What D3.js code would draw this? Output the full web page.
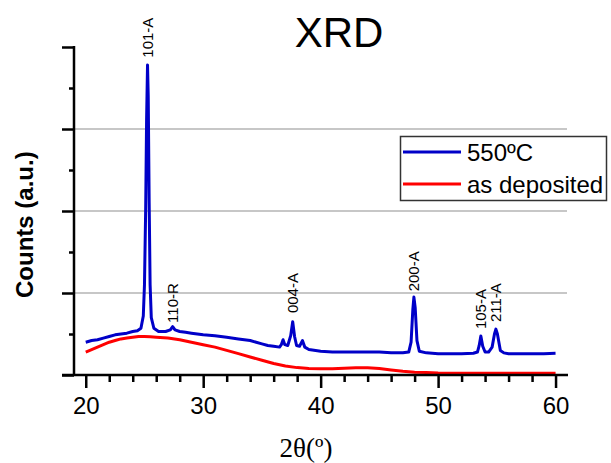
<!DOCTYPE html>
<html>
<head>
<meta charset="utf-8">
<script src="https://cdn.jsdelivr.net/npm/d3@7"></script>
<style>
  body { margin: 0; background: #fff; }
  svg { display: block; font-family: "Liberation Sans", Arial, sans-serif; }
</style>
</head>
<body>
<svg id="chart" width="611" height="463"></svg>
<script>
// 2theta (deg) vs counts (a.u.)
const annealed = [
  [20.0, 0.40], [20.5, 0.42], [21.0, 0.43], [21.5, 0.45], [22.0, 0.47],
  [22.5, 0.49], [23.0, 0.50], [23.5, 0.51], [24.0, 0.53], [24.4, 0.54],
  [24.7, 0.57], [24.9, 0.72], [25.0, 1.10], [25.1, 2.00], [25.18, 3.10],
  [25.26, 3.78], [25.32, 3.40], [25.4, 2.10], [25.48, 1.10], [25.58, 0.70],
  [25.8, 0.57], [26.2, 0.53], [26.8, 0.53], [27.2, 0.55], [27.4, 0.59],
  [27.6, 0.55], [28.0, 0.53], [28.5, 0.52], [29.0, 0.51], [29.5, 0.50],
  [30.0, 0.49], [31.0, 0.48], [32.0, 0.46], [33.0, 0.44], [34.0, 0.42],
  [35.0, 0.38], [35.5, 0.36], [36.0, 0.35], [36.5, 0.34], [36.65, 0.37],
  [36.8, 0.43], [36.95, 0.37], [37.2, 0.36], [37.45, 0.48], [37.62, 0.65],
  [37.78, 0.47], [37.95, 0.36], [38.2, 0.35], [38.45, 0.42], [38.65, 0.34],
  [39.0, 0.31], [40.0, 0.29], [41.0, 0.28], [42.0, 0.28], [43.0, 0.28],
  [44.0, 0.28], [45.0, 0.28], [46.0, 0.27], [47.0, 0.27], [47.5, 0.28],
  [47.7, 0.40], [47.85, 0.80], [47.94, 0.95], [48.05, 0.82], [48.2, 0.42],
  [48.4, 0.29], [49.0, 0.27], [50.0, 0.26], [51.0, 0.26], [52.0, 0.26],
  [53.0, 0.265], [53.35, 0.28], [53.5, 0.36], [53.64, 0.475], [53.8, 0.35],
  [54.0, 0.28], [54.3, 0.28], [54.6, 0.34], [54.8, 0.50], [54.92, 0.56],
  [55.05, 0.50], [55.3, 0.30], [55.6, 0.27], [56.0, 0.26], [57.0, 0.26],
  [58.0, 0.26], [59.0, 0.26], [60.0, 0.265]
];

const asDeposited = [
  [20.0, 0.28], [20.5, 0.31], [21.0, 0.34], [21.5, 0.37], [22.0, 0.40],
  [22.5, 0.42], [23.0, 0.44], [23.5, 0.45], [24.0, 0.46], [24.5, 0.47],
  [25.0, 0.47], [25.5, 0.465], [26.0, 0.46], [27.0, 0.45], [28.0, 0.43],
  [29.0, 0.40], [30.0, 0.37], [31.0, 0.34], [32.0, 0.30], [33.0, 0.26],
  [34.0, 0.22], [35.0, 0.18], [36.0, 0.14], [37.0, 0.11], [38.0, 0.09],
  [39.0, 0.08], [40.0, 0.075], [41.0, 0.077], [42.0, 0.082], [43.0, 0.088],
  [44.0, 0.088], [45.0, 0.078], [46.0, 0.06], [47.0, 0.045], [48.0, 0.035],
  [49.0, 0.03], [50.0, 0.025], [52.0, 0.022], [55.0, 0.02], [58.0, 0.02],
  [60.0, 0.02]
];

// peak labels: name, 2theta, height of label base (counts)
const peakNames = ["101-A", "110-R", "004-A", "200-A", "105-A", "211-A"];
const peakPos = [25.26, 27.4, 37.62, 47.94, 53.64, 54.92];
const peakLabelBase = [3.87, 0.635, 0.755, 1.02, 0.56, 0.645];

const seriesNames = ["550ºC", "as deposited"];
const seriesColors = ["#0000c8", "#ff0000"];
const xTicks = [20, 30, 40, 50, 60];
const xMinor = [22, 24, 26, 28, 32, 34, 36, 38, 42, 44, 46, 48, 52, 54, 56, 58];
const yTicks = [0, 1, 2, 3, 4];
const yMinor = [0.5, 1.5, 2.5, 3.5];
const gridVals = [1, 2, 3];

const svg = d3.select("#chart");

const x = d3.scaleLinear().domain([19, 61.06]).range([74, 568]);
const y = d3.scaleLinear().domain([0, 4]).range([375, 47]);

// grid
svg.append("g")
  .selectAll("line")
  .data(gridVals)
  .enter()
  .append("line")
  .attr("x1", x(19))
  .attr("x2", 567)
  .attr("y1", (d) => y(d))
  .attr("y2", (d) => y(d))
  .attr("stroke", "#b4b4b4")
  .attr("stroke-width", 1.5);

// curves
const line = d3.line()
  .x((d) => x(d[0]))
  .y((d) => y(d[1]));

[asDeposited, annealed].forEach((data, i) => {
  svg.append("path")
    .datum(data)
    .attr("d", line)
    .attr("fill", "none")
    .attr("stroke", seriesColors[1 - i])
    .attr("stroke-width", 3)
    .attr("stroke-linejoin", "round");
});

// axes
const xAxis = svg.append("g").attr("transform", `translate(0, ${y(0)})`);
xAxis.call(d3.axisBottom(x).tickValues(xTicks).tickSize(13).tickPadding(9));
xAxis.append("g").call(d3.axisBottom(x).tickValues(xMinor).tickSize(7).tickFormat(""));
xAxis.selectAll(".domain").remove();
xAxis.selectAll("line").attr("stroke", "#000").attr("stroke-width", 2.5);
xAxis.selectAll("text")
  .attr("fill", "#000")
  .style("font-size", "24px")
  .style("font-family", "'Liberation Sans', Arial, sans-serif");
xAxis.append("line")
  .attr("x1", 62).attr("x2", 568)
  .attr("stroke", "#000").attr("stroke-width", 2.5);

const yAxis = svg.append("g").attr("transform", `translate(${x(19)}, 0)`);
yAxis.call(d3.axisLeft(y).tickValues(yTicks).tickSize(12).tickFormat(""));
yAxis.append("g").call(d3.axisLeft(y).tickValues(yMinor).tickSize(5).tickFormat(""));
yAxis.selectAll(".domain").remove();
yAxis.selectAll("line").attr("stroke", "#000").attr("stroke-width", 2.5);
yAxis.append("line")
  .attr("y1", y(4) - 1).attr("y2", y(0))
  .attr("stroke", "#000").attr("stroke-width", 2.5);

// peak labels
svg.append("g")
  .selectAll("text")
  .data(peakNames)
  .enter()
  .append("text")
  .attr("transform", (d, i) => `translate(${x(peakPos[i])}, ${y(peakLabelBase[i])}) rotate(-90)`)
  .attr("dy", "0.36em")
  .style("font-size", "15px")
  .text((d) => d);

// titles
svg.append("text")
  .attr("x", 339)
  .attr("y", 47)
  .attr("text-anchor", "middle")
  .style("font-size", "42px")
  .text("XRD");

svg.append("text")
  .attr("transform", "translate(33, 298) rotate(-90)")
  .style("font-size", "24px")
  .style("font-weight", "bold")
  .text("Counts (a.u.)");

svg.append("text")
  .attr("x", 306)
  .attr("y", 457)
  .attr("text-anchor", "middle")
  .style("font-family", "'Liberation Serif', 'Times New Roman', serif")
  .style("font-size", "27px")
  .text("2θ(º)");

// legend
const legend = svg.append("g");
legend.append("rect")
  .attr("x", 400.5)
  .attr("y", 136.5)
  .attr("width", 206)
  .attr("height", 64)
  .attr("fill", "#fff")
  .attr("stroke", "#333")
  .attr("stroke-width", 1.5);

seriesNames.forEach((name, i) => {
  const ly = 152 + i * 32;
  legend.append("line")
    .attr("x1", 403).attr("x2", 461)
    .attr("y1", ly).attr("y2", ly)
    .attr("stroke", seriesColors[i])
    .attr("stroke-width", 2.8);
  legend.append("text")
    .attr("x", 467)
    .attr("y", ly + 9)
    .style("font-size", "24px")
    .text(name);
});
</script>
</body>
</html>
